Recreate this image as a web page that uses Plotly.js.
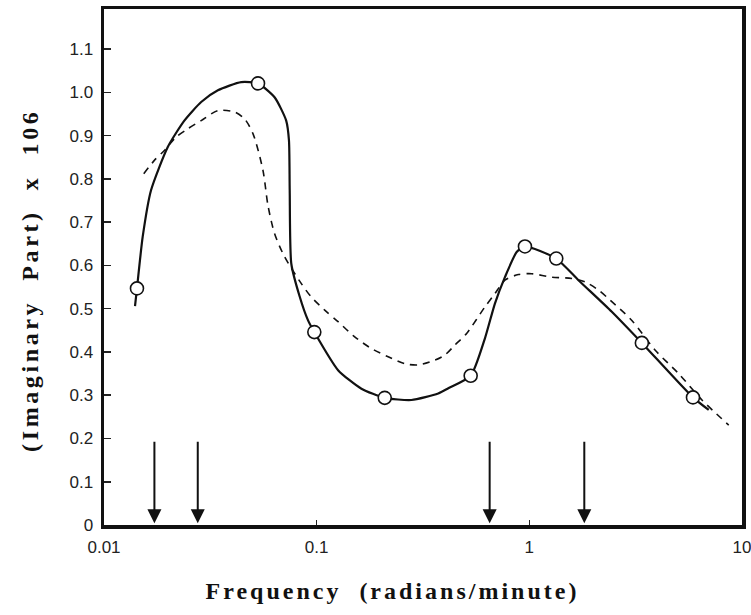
<!DOCTYPE html>
<html>
<head>
<meta charset="utf-8">
<script src="https://cdn.plot.ly/plotly-3.0.1.min.js"></script>
<style>
  html, body { margin: 0; padding: 0; background: #fff; }
  #chart { width: 751px; height: 615px; }
</style>
</head>
<body>
<div id="chart"></div>
<script>
// Solid curve (measured, with circles)
const solidX = [0.01399, 0.01429, 0.01520, 0.01664, 0.01995, 0.02387, 0.02864, 0.03433, 0.04416, 0.0530,
  0.0634, 0.0719, 0.0741, 0.0747, 0.0760, 0.083, 0.0911, 0.0975,
  0.1261, 0.1624, 0.209, 0.279, 0.373, 0.4159, 0.53,
  0.618, 0.689, 0.768, 0.872, 0.954, 1.339, 1.703, 2.443, 3.383, 5.884, 6.977];
const solidY = [0.506, 0.547, 0.666, 0.774, 0.874, 0.935, 0.978, 1.005, 1.024, 1.021,
  0.989, 0.935, 0.889, 0.774, 0.604, 0.530, 0.473, 0.446,
  0.358, 0.315, 0.294, 0.289, 0.304, 0.316, 0.345,
  0.431, 0.512, 0.573, 0.631, 0.644, 0.616, 0.566, 0.493, 0.421, 0.295, 0.266];

// Circled data points
const pointX = [0.01429, 0.0530, 0.0975, 0.209, 0.53, 0.954, 1.339, 3.383, 5.884];
const pointY = [0.547, 1.021, 0.446, 0.294, 0.345, 0.644, 0.616, 0.421, 0.295];

// Dashed curve
const dashX = [0.01538, 0.01725, 0.01923, 0.02183, 0.02477, 0.02864, 0.03432, 0.04110, 0.04581, 0.05017,
  0.05591, 0.05902, 0.06339, 0.07068, 0.08473, 0.0944, 0.1091, 0.1261, 0.1510, 0.1810,
  0.2169, 0.2598, 0.3003, 0.3595, 0.4008, 0.4467, 0.5073, 0.618, 0.689, 0.768,
  0.888, 1.026, 1.275, 1.584, 1.829, 2.116, 2.399, 3.036, 3.909, 5.039, 6.486, 8.665];
const dashY = [0.812, 0.843, 0.866, 0.897, 0.916, 0.935, 0.958, 0.955, 0.939, 0.905,
  0.820, 0.739, 0.674, 0.620, 0.558, 0.527, 0.497, 0.470, 0.435, 0.408,
  0.389, 0.373, 0.370, 0.381, 0.393, 0.416, 0.443, 0.504, 0.535, 0.566,
  0.579, 0.581, 0.573, 0.570, 0.562, 0.543, 0.520, 0.473, 0.404, 0.350, 0.289, 0.231];

// Arrow markers along the frequency axis
const arrowX = [0.01726, 0.0276, 0.651, 1.814];
const arrowTop = 0.196;
const arrowTip = 0.004;

// Axis ticks
const xTickVals = [0.01, 0.1, 1, 10];
const xTickText = ['0.01', '0.1', '1', '10'];
const yTickVals = [0, 0.1, 0.2, 0.3, 0.4, 0.5, 0.6, 0.7, 0.8, 0.9, 1.0, 1.1];
const yTickText = ['0', '0.1', '0.2', '0.3', '0.4', '0.5', '0.6', '0.7', '0.8', '0.9', '1.0', '1.1'];

const xTitle = 'Frequency\u00a0\u00a0(radians/minute)';
const yTitle = '(Imaginary\u00a0\u00a0Part)\u00a0\u00a0x\u00a0\u00a0106';

const traces = [
  {
    x: dashX, y: dashY, type: 'scatter', mode: 'lines',
    line: { color: '#111', width: 1.6, dash: '7px,6px', shape: 'spline', smoothing: 0.8 },
    hoverinfo: 'skip', showlegend: false
  },
  {
    x: solidX, y: solidY, type: 'scatter', mode: 'lines',
    line: { color: '#111', width: 2.2, shape: 'spline', smoothing: 0.6 },
    hoverinfo: 'skip', showlegend: false
  },
  {
    x: pointX, y: pointY, type: 'scatter', mode: 'markers',
    marker: { symbol: 'circle', size: 13, color: '#fff', line: { color: '#111', width: 1.6 } },
    showlegend: false
  }
];

const annotations = arrowX.map(v => ({
  x: Math.log10(v), y: arrowTip, xref: 'x', yref: 'y',
  ax: Math.log10(v), ay: arrowTop, axref: 'x', ayref: 'y',
  text: '', showarrow: true, arrowhead: 2, arrowsize: 1.4, arrowwidth: 2, arrowcolor: '#111', standoff: 0
}));

annotations.push({
  text: '<b>' + xTitle + '</b>', xref: 'paper', yref: 'paper', x: 0.452, y: -0.128,
  xanchor: 'center', yanchor: 'middle', showarrow: false,
  font: { family: 'Liberation Serif, Times New Roman, serif', size: 24, color: '#111' }
});
annotations.push({
  text: '<b>' + yTitle + '</b>', xref: 'paper', yref: 'paper', x: -0.116, y: 0.475,
  xanchor: 'center', yanchor: 'middle', showarrow: false, textangle: -90,
  font: { family: 'Liberation Serif, Times New Roman, serif', size: 24, color: '#111' }
});

const tickFont = { family: 'Liberation Sans, Arial, sans-serif', size: 17, color: '#222' };

const layout = {
  width: 751, height: 615,
  margin: { l: 104, r: 9, t: 9, b: 90 },
  paper_bgcolor: '#fff', plot_bgcolor: '#fff',
  showlegend: false,
  xaxis: {
    type: 'log', range: [-2, 1.0002],
    tickmode: 'array', tickvals: xTickVals, ticktext: xTickText,
    ticks: 'inside', ticklen: 5, tickwidth: 1.5, tickcolor: '#222',
    showline: true, linewidth: 3.5, linecolor: '#111', mirror: true,
    showgrid: false, zeroline: false, tickfont: tickFont, ticklabelstandoff: 4,
    ticklabeloverflow: 'allow', automargin: false
  },
  yaxis: {
    range: [0, 1.193],
    tickmode: 'array', tickvals: yTickVals, ticktext: yTickText,
    ticks: 'inside', ticklen: 7, tickwidth: 1.5, tickcolor: '#222',
    showline: true, linewidth: 3.5, linecolor: '#111', mirror: true,
    showgrid: false, zeroline: false, tickfont: tickFont, ticklabelstandoff: 4,
    ticklabeloverflow: 'allow', automargin: false
  },
  annotations: annotations
};

Plotly.newPlot('chart', traces, layout, { displayModeBar: false, staticPlot: true }).then(() => {
  document.querySelectorAll('.annotation-text').forEach(t => {
    if (t.textContent.length > 5) {
      t.style.letterSpacing = t.textContent.indexOf('Imaginary') >= 0 ? '3.6px' : '3px';
    }
  });
});
</script>
</body>
</html>
